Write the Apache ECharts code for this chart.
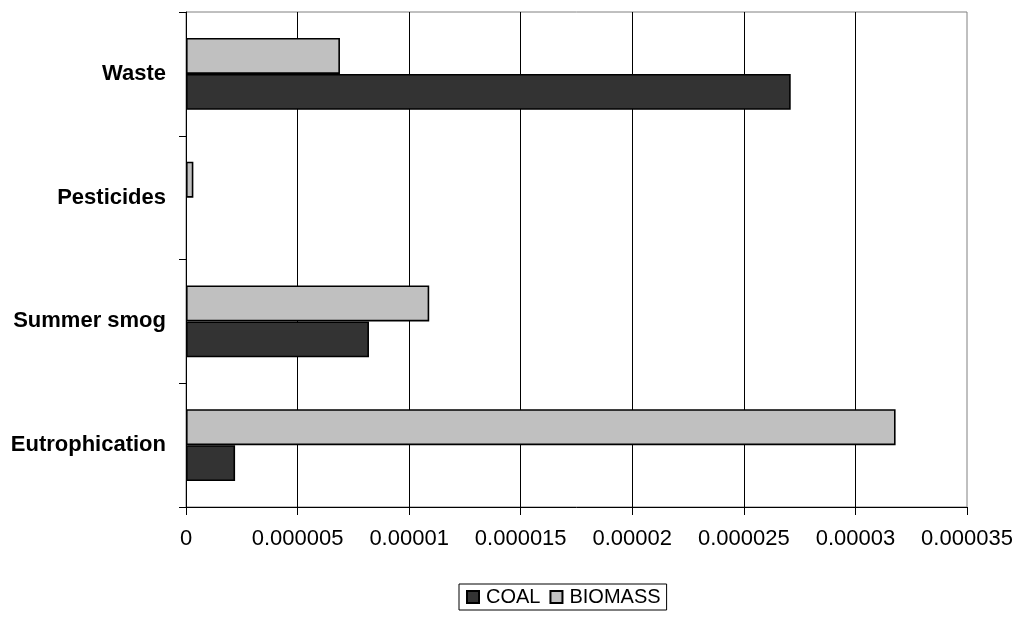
<!DOCTYPE html>
<html>
<head>
<meta charset="utf-8">
<script src="https://cdn.jsdelivr.net/npm/echarts@6/dist/echarts.min.js"></script>
<style>
  html, body { margin: 0; padding: 0; background: #fff; }
  #chart { width: 1021px; height: 624px; }
</style>
</head>
<body>
<div id="chart"></div>
<script>
// Impact categories, bottom to top
const categories = ['Eutrophication', 'Summer smog', 'Pesticides', 'Waste'];
const coalValues = [0.0000022, 0.0000082, 0, 0.0000271];
const biomassValues = [0.0000318, 0.0000109, 0.00000033, 0.0000069];
const xTickLabels = ['0', '0.000005', '0.00001', '0.000015', '0.00002', '0.000025', '0.00003', '0.000035'];
const xStep = 0.000005;

const font = 'Arial, "Liberation Sans", sans-serif';
const chart = echarts.init(document.getElementById('chart'), null, { renderer: 'canvas' });

// zero-length bars get no outline
function barData(values) {
  return values.map(function (v) {
    return v === 0 ? { value: v, itemStyle: { borderWidth: 0 } } : v;
  });
}

chart.setOption({
  backgroundColor: '#ffffff',
  animation: false,
  textStyle: { fontFamily: font, color: '#000' },
  grid: {
    left: 186, right: 54, top: 12, bottom: 117,
    show: true, borderColor: '#808080', borderWidth: 1, backgroundColor: 'transparent'
  },
  legend: {
    left: 459, top: 584,
    orient: 'horizontal',
    data: ['COAL', 'BIOMASS'],
    icon: 'rect',
    itemWidth: 12, itemHeight: 12,
    itemGap: 9,
    padding: [3, 6, 3, 7],
    borderColor: '#000', borderWidth: 1,
    textStyle: { fontFamily: font, fontSize: 20, color: '#000', padding: [0, 0, 0, 2] }
  },
  xAxis: {
    type: 'value',
    min: 0, max: 0.000035, interval: xStep,
    axisLine: { show: true, lineStyle: { color: '#000', width: 1 } },
    axisTick: { show: true, inside: false, length: 8, lineStyle: { color: '#000' } },
    axisLabel: {
      fontFamily: font, fontSize: 22, color: '#000', margin: 21,
      formatter: function (v) { return xTickLabels[Math.round(v / xStep)]; }
    },
    splitLine: { show: true, showMinLine: false, showMaxLine: false, lineStyle: { color: '#000', width: 1 } }
  },
  yAxis: {
    type: 'category',
    data: categories,
    axisLine: { show: true, lineStyle: { color: '#000', width: 1 } },
    axisTick: { show: true, inside: false, length: 7, lineStyle: { color: '#000' } },
    axisLabel: { fontFamily: font, fontSize: 22, fontWeight: 'bold', color: '#000', margin: 20 },
    splitLine: { show: false }
  },
  series: [
    {
      name: 'BIOMASS', type: 'bar', data: barData(biomassValues),
      barGap: '0%', barCategoryGap: '42%',
      itemStyle: { color: '#c0c0c0', borderColor: '#000', borderWidth: 1.6 }
    },
    {
      name: 'COAL', type: 'bar', data: barData(coalValues),
      barGap: '0%', barCategoryGap: '42%',
      itemStyle: { color: '#333333', borderColor: '#000', borderWidth: 1.6 }
    }
  ]
});
</script>
</body>
</html>
